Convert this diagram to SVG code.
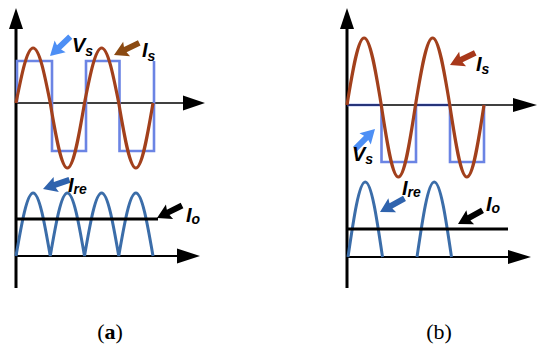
<svg xmlns="http://www.w3.org/2000/svg" width="550" height="350" viewBox="0 0 550 350">
  <style>
    .axis{stroke:#000;fill:none;stroke-width:1.6}
    .vaxis{stroke:#000;fill:none;stroke-width:3}
    .io{stroke:#000;fill:none;stroke-width:3}
    .sine{stroke:#a2401c;fill:none;stroke-width:3.2}
    .sq{stroke:#6b84e4;fill:none;stroke-width:2.6}
    .ire{stroke:#3b6da9;fill:none;stroke-width:3}
    .lbl{font-family:"Liberation Sans",Arial,sans-serif;font-weight:bold;font-style:italic;font-size:20px;fill:#000}
    .sub{font-size:14px;font-style:italic}
    .cap{font-family:"Liberation Serif","Times New Roman",serif;font-size:22px;fill:#000}
  </style>
  <defs>
    <path id="barrow" d="M0,0 L14,-8 L12.5,-3 L28,-3 L28,3 L12.5,3 L14,8 Z"/>
  </defs>

  <!-- Panel (a) -->
  <g id="panel-a-axes">
    <line class="vaxis" x1="16" y1="288" x2="16" y2="24"/>
    <polygon points="16,8 9,29 23,29" fill="#000"/>
    <line class="axis" x1="16" y1="103" x2="185" y2="103"/>
    <polygon points="205,103 183,95.5 183,110.5" fill="#000"/>
    <line class="axis" x1="16" y1="256" x2="179" y2="256" style="stroke-width:2"/>
    <polygon points="200,256 177,248.5 177,263.5" fill="#000"/>
  </g>
  <g id="a-vs-wave">
    <path class="sq" d="M17,103 V61 H52 V151 H86 V61 H119.5 V151 H154 V61"/>
  </g>
  <g id="a-is-wave">
    <path class="sine" d="M16,103 C21.585,74.82 26.934,48 33.125,48 C39.316,48 44.665,74.82 50.25,103 C55.835,136.3 61.184,168 67.375,168 C73.566,168 78.915,136.3 84.5,103 C90.085,74.82 95.434,48 101.625,48 C107.816,48 113.165,74.82 118.75,103 C124.335,136.3 129.684,168 135.875,168 C142.066,168 147.415,136.3 153,103"/>
  </g>
  <g id="a-ire-wave">
    <path class="ire" d="M16,256 C21.585,223.7 26.934,193 33.125,193 C39.316,193 44.665,223.7 50.25,256 C55.835,223.7 61.184,193 67.375,193 C73.566,193 78.915,223.7 84.5,256 C90.085,223.7 95.434,193 101.625,193 C107.816,193 113.165,223.7 118.75,256 C124.335,223.7 129.684,193 135.875,193 C142.066,193 147.415,223.7 153,256"/>
  </g>
  <g id="a-io-line">
    <line class="io" x1="16" y1="219" x2="158" y2="219"/>
  </g>
  <g id="a-labels">
    <use href="#barrow" fill="#4d8ff5" transform="translate(50,56) rotate(-43.6)"/>
    <text class="lbl" x="72" y="52">V<tspan class="sub" dy="4">s</tspan></text>
    <use href="#barrow" fill="#8b4a12" transform="translate(114,55) rotate(-25.6)"/>
    <text class="lbl" x="142" y="57">I<tspan class="sub" dy="4">s</tspan></text>
    <use href="#barrow" fill="#2f63ad" transform="translate(43,189) rotate(-19)"/>
    <text class="lbl" x="68" y="192">I<tspan class="sub" dy="2">re</tspan></text>
    <use href="#barrow" fill="#000" transform="translate(157,218) rotate(-26.6)"/>
    <text class="lbl" x="186" y="222">I<tspan class="sub" dy="2">o</tspan></text>
  </g>
  <text class="cap" x="110" y="339" text-anchor="middle">(<tspan font-weight="bold">a</tspan>)</text>

  <!-- Panel (b) -->
  <g id="panel-b-axes">
    <line class="vaxis" x1="347" y1="288" x2="347" y2="24"/>
    <polygon points="347,8 340,29 354,29" fill="#000"/>
    <line class="axis" x1="347" y1="105" x2="515" y2="105"/>
    <polygon points="537,105 513,98 513,112" fill="#000"/>
    <line class="axis" x1="347" y1="257" x2="510" y2="257" style="stroke-width:2"/>
    <polygon points="531,257 508,250 508,264" fill="#000"/>
  </g>
  <g id="b-vs-wave">
    <path class="sq" d="M347,105 H381.5 V162 H416 V105 H450 V162 H484 V105"/>
    <path d="M347,105 H381.5 M416,105 H450" stroke="#26347a" stroke-width="2" fill="none"/>
  </g>
  <g id="b-is-wave">
    <path class="sine" d="M347,105 C352.585,70.7 357.934,38 364.125,38 C370.316,38 375.665,70.7 381.25,105 C386.835,141.9 392.184,177 398.375,177 C404.566,177 409.915,141.9 415.5,105 C421.085,70.7 426.434,38 432.625,38 C438.816,38 444.165,70.7 449.75,105 C455.335,141.9 460.684,177 466.875,177 C473.066,177 478.415,141.9 484,105"/>
  </g>
  <g id="b-ire-wave">
    <path class="ire" d="M348,257 C353.625,218.6 359.014,182 365.25,182 C371.486,182 376.875,218.6 382.5,257"/>
    <path class="ire" d="M417,257 C422.625,218.6 428.014,182 434.25,182 C440.486,182 445.875,218.6 451.5,257"/>
  </g>
  <g id="b-io-line">
    <line class="io" x1="347" y1="229" x2="508" y2="229"/>
  </g>
  <g id="b-labels">
    <use href="#barrow" fill="#a8381a" transform="translate(450,65) rotate(-25.6)"/>
    <text class="lbl" x="476" y="71">I<tspan class="sub" dy="3">s</tspan></text>
    <use href="#barrow" fill="#4d8ff5" transform="translate(375,129) rotate(135)"/>
    <text class="lbl" x="352" y="161">V<tspan class="sub" dy="3">s</tspan></text>
    <use href="#barrow" fill="#2f63ad" transform="translate(380,212) rotate(-29)"/>
    <text class="lbl" x="402" y="195">I<tspan class="sub" dy="2">re</tspan></text>
    <use href="#barrow" fill="#000" transform="translate(458,224) rotate(-29)"/>
    <text class="lbl" x="486" y="211">I<tspan class="sub" dy="2">o</tspan></text>
  </g>
  <text class="cap" x="439" y="339" text-anchor="middle">(b)</text>
</svg>
